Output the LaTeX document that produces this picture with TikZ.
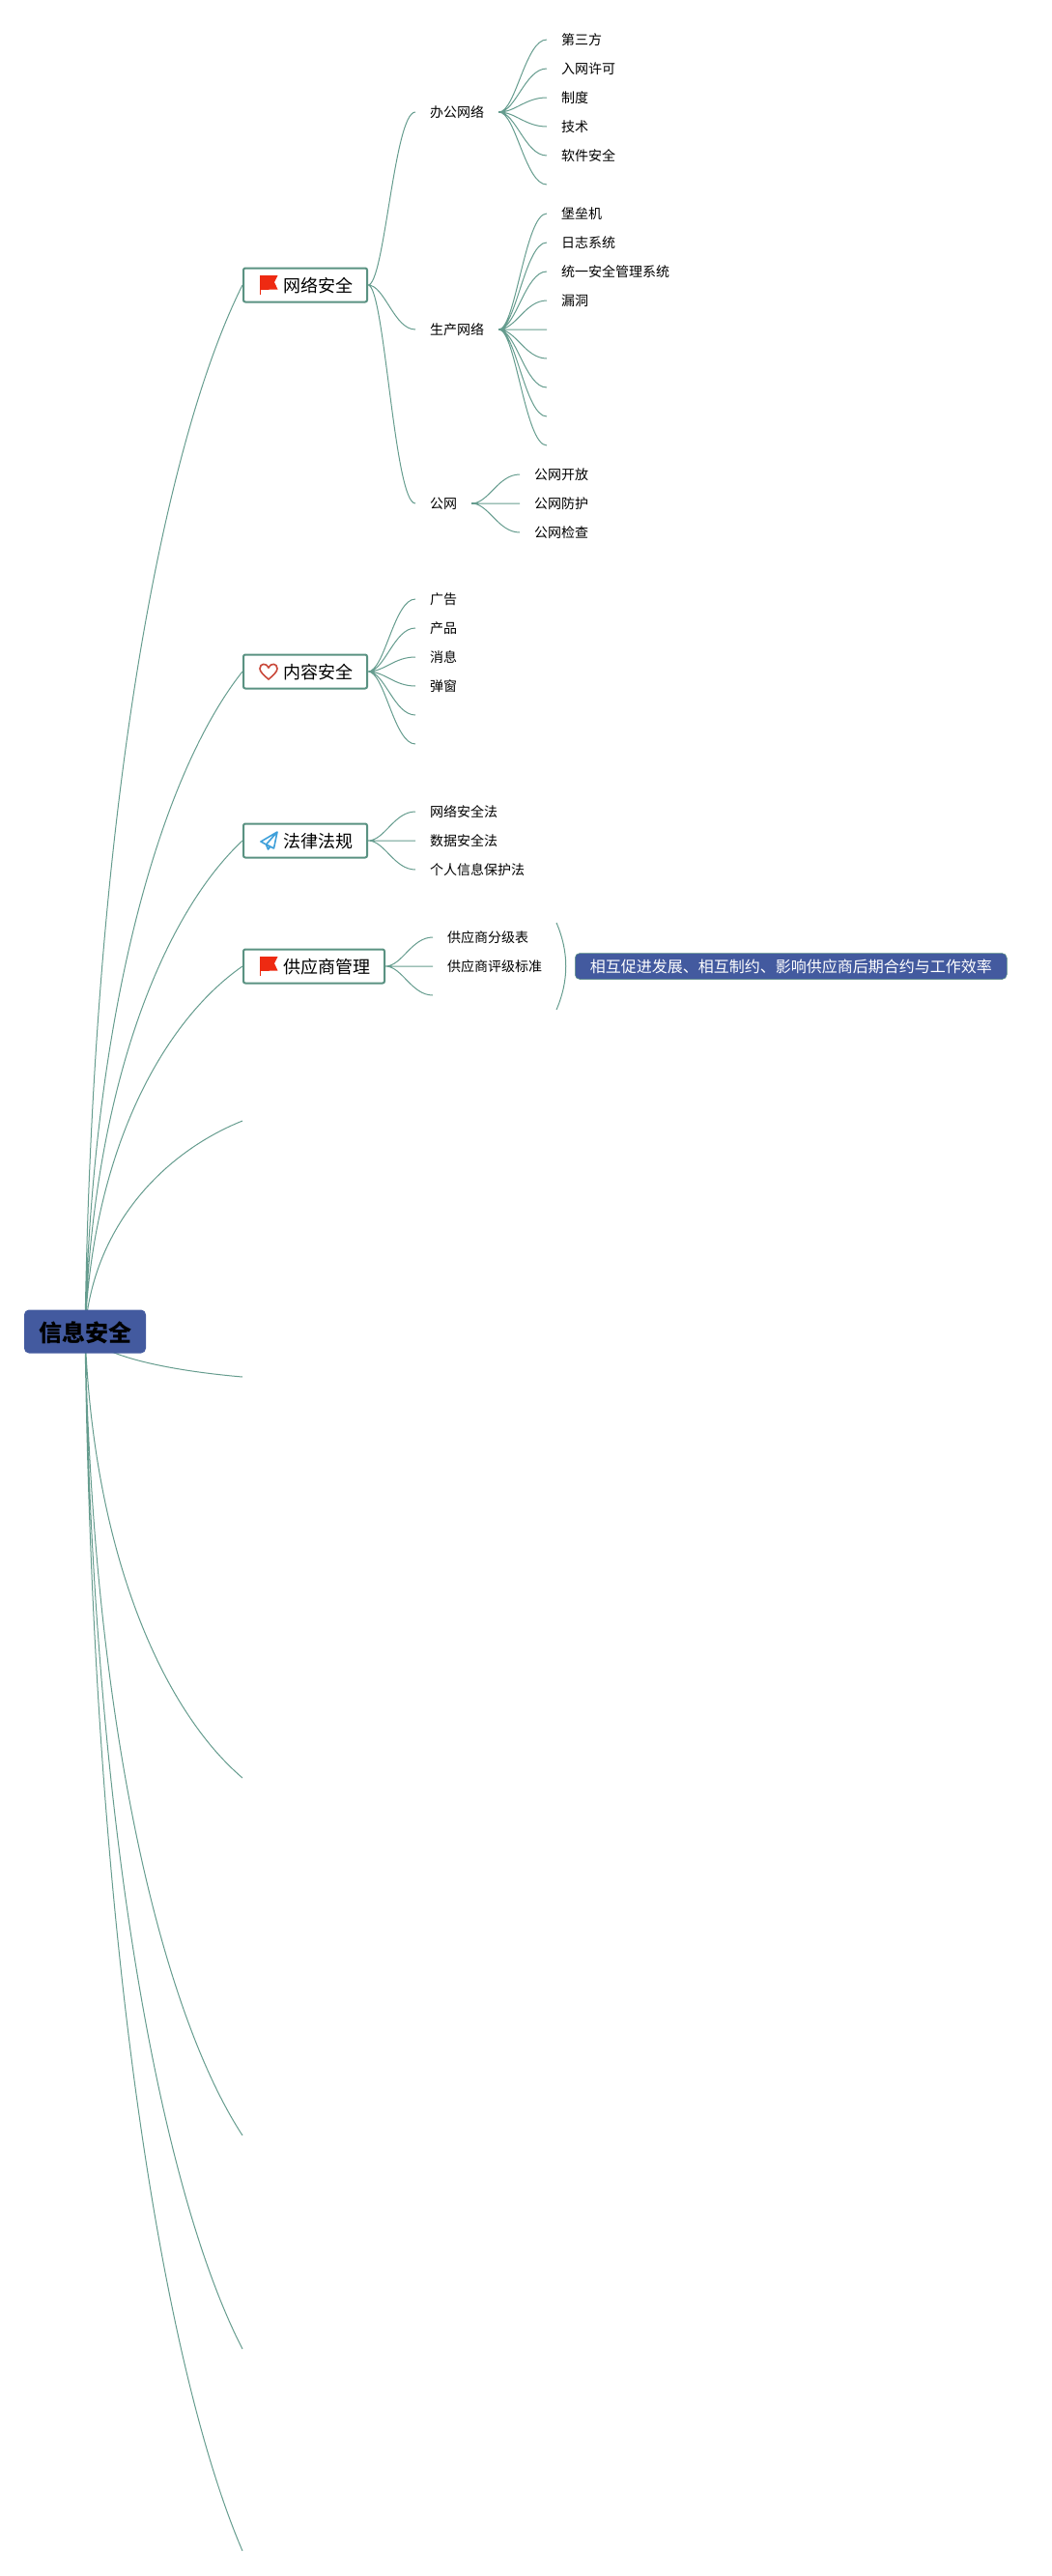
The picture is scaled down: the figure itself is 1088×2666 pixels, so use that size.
\documentclass[tikz,border=0pt]{standalone}
\usepackage{fontspec}
\setmainfont{Noto Sans CJK SC}
\usetikzlibrary{calc}
\pgfdeclarelayer{background}
\pgfsetlayers{background,main}
\definecolor{linegreen}{HTML}{659C8E}
\definecolor{boxgreen}{HTML}{5A9282}
\definecolor{rootblue}{HTML}{435A9F}
\definecolor{flagred}{HTML}{EE2A12}
\definecolor{heartred}{HTML}{C9483A}
\definecolor{planeblue}{HTML}{3FA0DA}
\tikzset{
  root/.style={fill=rootblue,rounded corners=5pt,minimum width=126pt,minimum height=45pt,inner sep=0pt,text height=21pt,text depth=1pt,font=\fontsize{24pt}{24pt}\selectfont\bfseries},
  topic/.style={draw=boxgreen,line width=2pt,fill=white,rounded corners=2pt,anchor=west,inner sep=0pt,minimum height=35pt,text height=16pt,text depth=1pt,font=\fontsize{18pt}{18pt}\selectfont,execute at begin node=\hspace*{41pt},execute at end node=\hspace*{15pt}},
  leaf/.style={anchor=west,inner ysep=0pt,inner xsep=15pt,text height=12.5pt,text depth=1pt,font=\fontsize{14pt}{14pt}\selectfont},
  note/.style={fill=rootblue,text=white,rounded corners=5pt,draw=boxgreen,line width=.5pt,minimum width=447pt,minimum height=27pt,inner sep=0pt,anchor=west,font=\fontsize{16pt}{16pt}\selectfont},
  stem/.style={draw=linegreen,line width=2pt},
  hub/.style={append after command={(\tikzlastnode.east) edge[stem] +(6pt,0pt)}},
  trunk/.style={draw=linegreen,line width=1pt,to path={let \p1=(\tikztostart),\p2=(\tikztotarget) in .. controls ({\x1+0.05*(\x2-\x1)},{\y1+0.5*(\y2-\y1)}) and ({\x1+0.5*(\x2-\x1)},{\y1+0.85*(\y2-\y1)}) .. (\tikztotarget)}},
  link/.style={draw=linegreen,line width=1pt,to path={let \p1=(\tikztostart),\p2=(\tikztotarget) in .. controls ({\x1+0.35*(\x2-\x1)},{\y1}) and ({\x1+0.55*(\x2-\x1)},{\y2}) .. (\tikztotarget)}},
  flag/.pic={\fill[flagred] (-9.5,-10) -- (9,-10) -- (5.5,-3) -- (9,4.5) -- (-9.5,5) -- cycle;
    \draw[flagred,line width=.8pt] (-9.5,-10) -- (-9.5,10);},
  heart/.pic={\draw[heartred,line width=1.6pt] (0,8) .. controls (-5,4) and (-9,0) .. (-9,-3) .. controls (-9,-9) and (-2,-9) .. (0,-4) .. controls (2,-9) and (9,-9) .. (9,-3) .. controls (9,0) and (5,4) .. (0,8) -- cycle;},
  plane/.pic={\draw[planeblue,line width=1.6pt,line join=round] (8.5,-9) -- (-8.5,1) -- (-3,4) -- (8.5,-9) -- (5,8) -- (-3,4) -- (-1,9) -- (1.5,6);}
}
\begin{document}
\begin{tikzpicture}[x=1pt,y=-1pt]
  \useasboundingbox (0,0) rectangle (1088,2666);
  \node[root] (r) at (88,1378) {信息安全};
  % topics
  \node[topic] (n-1) at (251,295) {网络安全};
  \node[topic] (n-2) at (251,695) {内容安全};
  \node[topic] (n-3) at (251,870) {法律法规};
  \node[topic] (n-4) at (251,1000) {供应商管理};
  \pic at (278.5,295) {flag};
  \pic at (278,695) {heart};
  \pic at (278.5,870) {plane};
  \pic at (278.5,1000) {flag};
  \coordinate (n-5) at (251,1160);
  \coordinate (n-6) at (251,1425);
  \coordinate (n-7) at (251,1840);
  \coordinate (n-8) at (251,2210);
  \coordinate (n-9) at (251,2431);
  \coordinate (n-10) at (251,2640);
  % network
  \node[leaf,hub] (n-1-1) at (430,116) {办公网络};
  \node[leaf,hub] (n-1-2) at (430,341) {生产网络};
  \node[leaf,hub] (n-1-3) at (430,521) {公网};
  \node[leaf] (n-1-1-1) at (566,41) {第三方};
  \node[leaf] (n-1-1-2) at (566,71) {入网许可};
  \node[leaf] (n-1-1-3) at (566,101) {制度};
  \node[leaf] (n-1-1-4) at (566,131) {技术};
  \node[leaf] (n-1-1-5) at (566,161) {软件安全};
  \coordinate (n-1-1-6) at (566,191);
  \node[leaf] (n-1-2-1) at (566,221) {堡垒机};
  \node[leaf] (n-1-2-2) at (566,251) {日志系统};
  \node[leaf] (n-1-2-3) at (566,281) {统一安全管理系统};
  \node[leaf] (n-1-2-4) at (566,311) {漏洞};
  \coordinate (n-1-2-5) at (566,341);
  \coordinate (n-1-2-6) at (566,371);
  \coordinate (n-1-2-7) at (566,401);
  \coordinate (n-1-2-8) at (566,431);
  \coordinate (n-1-2-9) at (566,461);
  \node[leaf] (n-1-3-1) at (538,491) {公网开放};
  \node[leaf] (n-1-3-2) at (538,521) {公网防护};
  \node[leaf] (n-1-3-3) at (538,551) {公网检查};
  % content
  \node[leaf] (n-2-1) at (430,620) {广告};
  \node[leaf] (n-2-2) at (430,650) {产品};
  \node[leaf] (n-2-3) at (430,680) {消息};
  \node[leaf] (n-2-4) at (430,710) {弹窗};
  \coordinate (n-2-5) at (430,740);
  \coordinate (n-2-6) at (430,770);
  % law
  \node[leaf] (n-3-1) at (430,840) {网络安全法};
  \node[leaf] (n-3-2) at (430,870) {数据安全法};
  \node[leaf] (n-3-3) at (430,900) {个人信息保护法};
  % suppliers
  \node[leaf] (n-4-1) at (448,970) {供应商分级表};
  \node[leaf] (n-4-2) at (448,1000) {供应商评级标准};
  \coordinate (n-4-3) at (448,1030);
  \coordinate (b-1) at (576,955);
  \coordinate (b-2) at (576,1045);
  \node[note] (s-1) at (595,1000) {相互促进发展、相互制约、影响供应商后期合约与工作效率};
  \begin{pgfonlayer}{background}
    \path[trunk]
      (r.center) to (n-1.west)
      (r.center) to (n-2.west)
      (r.center) to (n-3.west)
      (r.center) to (n-4.west)
      (r.center) to (n-5)
      (r.center) to (n-6)
      (r.center) to (n-7)
      (r.center) to (n-8)
      (r.center) to (n-9)
      (r.center) to (n-10);
    \path[link]
      (n-1.east) to (n-1-1.west)
      (n-1.east) to (n-1-2.west)
      (n-1.east) to (n-1-3.west)
      (n-1-1.east) to (n-1-1-1.west)
      (n-1-1.east) to (n-1-1-2.west)
      (n-1-1.east) to (n-1-1-3.west)
      (n-1-1.east) to (n-1-1-4.west)
      (n-1-1.east) to (n-1-1-5.west)
      (n-1-1.east) to (n-1-1-6)
      (n-1-2.east) to (n-1-2-1.west)
      (n-1-2.east) to (n-1-2-2.west)
      (n-1-2.east) to (n-1-2-3.west)
      (n-1-2.east) to (n-1-2-4.west)
      (n-1-2.east) to (n-1-2-5)
      (n-1-2.east) to (n-1-2-6)
      (n-1-2.east) to (n-1-2-7)
      (n-1-2.east) to (n-1-2-8)
      (n-1-2.east) to (n-1-2-9)
      (n-1-3.east) to (n-1-3-1.west)
      (n-1-3.east) to (n-1-3-2.west)
      (n-1-3.east) to (n-1-3-3.west)
      (n-2.east) to (n-2-1.west)
      (n-2.east) to (n-2-2.west)
      (n-2.east) to (n-2-3.west)
      (n-2.east) to (n-2-4.west)
      (n-2.east) to (n-2-5)
      (n-2.east) to (n-2-6)
      (n-3.east) to (n-3-1.west)
      (n-3.east) to (n-3-2.west)
      (n-3.east) to (n-3-3.west)
      (n-4.east) to (n-4-1.west)
      (n-4.east) to (n-4-2.west)
      (n-4.east) to (n-4-3);
    \draw[draw=linegreen,line width=1pt] (b-1) .. controls (589,985) and (589,1015) .. (b-2);
  \end{pgfonlayer}
\end{tikzpicture}
\end{document}
